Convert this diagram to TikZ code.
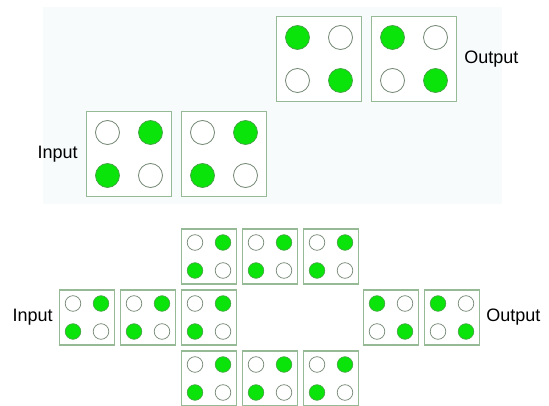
\documentclass[tikz,border=0pt]{standalone}
\usepackage{fontspec}
\setmainfont{Liberation Sans}
\usetikzlibrary{positioning}

\definecolor{bgtint}{RGB}{247,251,252}
\definecolor{boxgreen}{RGB}{150,185,150}
\definecolor{dotgreen}{RGB}{10,228,10}
\definecolor{dotedge}{RGB}{70,160,70}
\definecolor{rimgray}{RGB}{115,135,115}

\begin{document}
\begin{tikzpicture}[
    x=1pt, y=-1pt,
    bigbox/.style={rectangle, draw=boxgreen, fill=white, line width=1.3pt, minimum size=85pt, inner sep=0pt},
    smallbox/.style={rectangle, draw=boxgreen, fill=white, line width=1.1pt, minimum size=55pt, inner sep=0pt},
    bigon/.style={circle, draw=dotedge, fill=dotgreen, line width=0.7pt, minimum size=24pt, inner sep=0pt},
    bigoff/.style={circle, draw=rimgray, fill=white, line width=0.8pt, minimum size=24pt, inner sep=0pt},
    smallon/.style={circle, draw=dotedge, fill=dotgreen, line width=0.6pt, minimum size=15.6pt, inner sep=0pt},
    smalloff/.style={circle, draw=rimgray, fill=white, line width=0.7pt, minimum size=15.6pt, inner sep=0pt},
    tag/.style={inner sep=0pt, font=\fontsize{18}{20}\selectfont},
]
    \useasboundingbox (0,0) rectangle (549,406);

    % upper panel
    \fill[bgtint] (43,7) rectangle (502,204);

    \foreach \n/\cx/\cy in {in_a/129/154, in_b/224/154} {
        \node (\n) [bigbox] at (\cx,\cy) {};
        \node (\n_tl) [bigoff] at ([shift={(-21.5,-21.5)}]\n.center) {};
        \node (\n_tr) [bigon] at ([shift={(21.5,-21.5)}]\n.center) {};
        \node (\n_bl) [bigon] at ([shift={(-21.5,21.5)}]\n.center) {};
        \node (\n_br) [bigoff] at ([shift={(21.5,21.5)}]\n.center) {};
    }
    \foreach \n/\cx/\cy in {out_a/319/59, out_b/414/59} {
        \node (\n) [bigbox] at (\cx,\cy) {};
        \node (\n_tl) [bigon] at ([shift={(-21.5,-21.5)}]\n.center) {};
        \node (\n_tr) [bigoff] at ([shift={(21.5,-21.5)}]\n.center) {};
        \node (\n_bl) [bigoff] at ([shift={(-21.5,21.5)}]\n.center) {};
        \node (\n_br) [bigon] at ([shift={(21.5,21.5)}]\n.center) {};
    }

    \node (in_tag) [tag, left=8pt of in_a] {Input};
    \node (out_tag) [tag, right=7pt of out_b] {Output};

    % lower panel
    \foreach \n/\cx/\cy in {row1_a/209/256.5, row1_b/270/256.5, row1_c/331/256.5,
                            row2_a/87/317.5, row2_b/148/317.5, row2_c/209/317.5,
                            row3_a/209/378.5, row3_b/270/378.5, row3_c/331/378.5} {
        \node (\n) [smallbox] at (\cx,\cy) {};
        \node (\n_tl) [smalloff] at ([shift={(-14,-14)}]\n.center) {};
        \node (\n_tr) [smallon] at ([shift={(14,-14)}]\n.center) {};
        \node (\n_bl) [smallon] at ([shift={(-14,14)}]\n.center) {};
        \node (\n_br) [smalloff] at ([shift={(14,14)}]\n.center) {};
    }
    \foreach \n/\cx/\cy in {sout_a/391/317.5, sout_b/452/317.5} {
        \node (\n) [smallbox] at (\cx,\cy) {};
        \node (\n_tl) [smallon] at ([shift={(-14,-14)}]\n.center) {};
        \node (\n_tr) [smalloff] at ([shift={(14,-14)}]\n.center) {};
        \node (\n_bl) [smalloff] at ([shift={(-14,14)}]\n.center) {};
        \node (\n_br) [smallon] at ([shift={(14,14)}]\n.center) {};
    }

    \node (sin_tag) [tag, left=6pt of row2_a] {Input};
    \node (sout_tag) [tag, right=6pt of sout_b] {Output};

\end{tikzpicture}
\end{document}
